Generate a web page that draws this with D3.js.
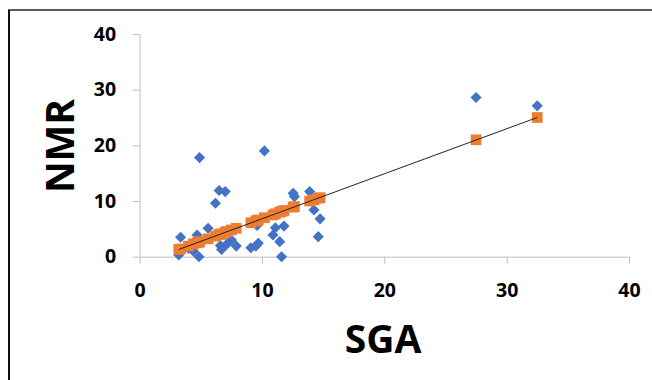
<!DOCTYPE html>
<html lang="en">
<head>
<meta charset="utf-8">
<title>NMR vs SGA</title>
<script src="https://d3js.org/d3.v7.min.js"></script>
<style>
  html, body { margin: 0; padding: 0; background: #fff; }
  svg { display: block; font-family: "Open Sans", sans-serif; }
  .axis path, .axis line { stroke: #bfbfbf; }
  .axis text { font-family: "Open Sans", sans-serif; font-size: 19.5px; font-weight: 700; fill: #000; }
</style>
</head>
<body>
<svg width="652" height="380"></svg>
<script>
// observed values (blue diamonds)
const sga = [3.2, 3.35, 4.0, 4.4, 4.7, 4.85, 4.9, 5.6, 6.2, 6.5, 6.6, 6.7, 7.0, 7.1, 7.5, 7.9,
             9.1, 9.5, 9.6, 9.7, 10.2, 10.9, 11.1, 11.45, 11.6, 11.8, 12.55, 12.65,
             13.9, 14.25, 14.6, 14.75, 27.5, 32.5];
const nmr = [0.3, 3.5, 1.5, 1.0, 3.9, 0.0, 17.8, 5.1, 9.6, 11.9, 2.0, 1.3, 11.7, 2.2, 3.0, 1.9,
             1.6, 1.9, 5.6, 2.4, 19.0, 3.9, 5.2, 2.7, 0.0, 5.5, 11.4, 10.8,
             11.7, 8.4, 3.6, 6.8, 28.6, 27.1];
// predicted values (orange squares), same SGA values
const predicted = [1.3, 1.4, 1.9, 2.3, 2.5, 2.6, 2.7, 3.2, 3.7, 4.0, 4.0, 4.1, 4.4, 4.5, 4.8, 5.1,
                   6.1, 6.4, 6.5, 6.6, 7.0, 7.5, 7.7, 8.0, 8.1, 8.3, 8.9, 9.0,
                   10.0, 10.2, 10.5, 10.6, 21.0, 25.0];
const ticks = [0, 10, 20, 30, 40];

const svg = d3.select("svg");

// outer frame (top and left edges only)
svg.append("line").attr("x1", 8).attr("x2", 652).attr("y1", 10).attr("y2", 10)
   .attr("stroke", "#5a5a5a").attr("stroke-width", 2);
svg.append("line").attr("x1", 9).attr("x2", 9).attr("y1", 10).attr("y2", 380)
   .attr("stroke", "#111").attr("stroke-width", 2);

const x = d3.scaleLinear().domain([0, 40]).range([139.6, 629]);
const y = d3.scaleLinear().domain([0, 40]).range([256.7, 34]);

svg.append("g").attr("class", "axis")
   .attr("transform", "translate(0," + y(0) + ")")
   .call(d3.axisBottom(x).tickValues(ticks).tickSize(7).tickSizeOuter(0).tickPadding(19));

svg.append("g").attr("class", "axis")
   .attr("transform", "translate(" + x(0) + ",0)")
   .call(d3.axisLeft(y).tickValues(ticks).tickSize(7).tickSizeOuter(0).tickPadding(16.5));

// titles
svg.append("text")
   .attr("x", 383).attr("y", 353)
   .attr("text-anchor", "middle")
   .style("font-size", "39px").style("font-weight", 700)
   .text("SGA");

svg.append("text")
   .attr("transform", "translate(74,146) rotate(-90)")
   .attr("text-anchor", "middle")
   .style("font-size", "39px").style("font-weight", 700)
   .text("NMR");

const obs = sga.map((s, i) => ({ s: s, v: nmr[i] }));
const pred = sga.map((s, i) => ({ s: s, v: predicted[i] }));

// diamonds
const diamond = d3.symbol().type(d3.symbolSquare).size(62);
svg.append("g").selectAll("path")
   .data(obs).enter().append("path")
   .attr("d", diamond)
   .attr("transform", d => "translate(" + x(d.s) + "," + y(d.v) + ") rotate(45)")
   .attr("fill", "#4472c4");

// squares
const square = d3.symbol().type(d3.symbolSquare).size(115);
svg.append("g").selectAll("path")
   .data(pred).enter().append("path")
   .attr("d", square)
   .attr("transform", d => "translate(" + x(d.s) + "," + y(d.v) + ")")
   .attr("fill", "#ed7d31");

// trend line through predicted values
const first = pred[0], last = pred[pred.length - 1];
svg.append("line")
   .attr("x1", x(first.s)).attr("y1", y(first.v))
   .attr("x2", x(last.s)).attr("y2", y(last.v))
   .attr("stroke", "#222").attr("stroke-width", 1);
</script>
</body>
</html>
